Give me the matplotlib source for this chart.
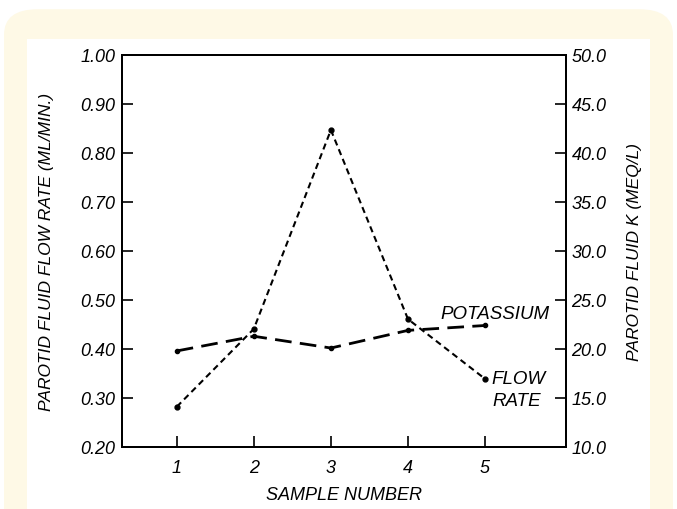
import matplotlib.pyplot as plt
from matplotlib.patches import FancyBboxPatch, Rectangle

plt.rcParams['font.family'] = ['Liberation Sans', 'DejaVu Sans']
plt.rcParams['font.style'] = 'italic'

samples = [1, 2, 3, 4, 5]
flow_rate = [0.282, 0.441, 0.847, 0.461, 0.339]   # ML/MIN, left axis
potassium = [19.8, 21.3, 20.1, 21.9, 22.4]        # MEQ/L, right axis

flow_ticks = [0.20, 0.30, 0.40, 0.50, 0.60, 0.70, 0.80, 0.90, 1.00]
k_ticks = [10.0, 15.0, 20.0, 25.0, 30.0, 35.0, 40.0, 45.0, 50.0]

fig = plt.figure(figsize=(6.77, 5.10), dpi=100)
fig.patch.set_facecolor('white')

# cream rounded frame with white panel inside
frame = FancyBboxPatch((4 / 677, -0.1), 669 / 677, 1.08,
                       boxstyle="round,pad=0,rounding_size=0.05",
                       transform=fig.transFigure, facecolor='#FEF9E6',
                       edgecolor='none', zorder=-10)
fig.patches.append(frame)
panel = Rectangle((27 / 677, 0), 623 / 677, 1 - 40 / 510,
                  transform=fig.transFigure, facecolor='white',
                  edgecolor='none', zorder=-9)
fig.patches.append(panel)

ax1 = fig.add_axes([122 / 677, 62 / 510, 444 / 677, 392 / 510])
ax1.patch.set_alpha(0)
ax2 = ax1.twinx()

ax1.plot(samples, flow_rate, color='black', linestyle=(0, (3, 2)), lw=1.5,
         marker='o', markersize=3.5)
ax2.plot(samples, potassium, color='black', linestyle=(0, (6, 3)), lw=2.0,
         marker='o', markersize=3)

ax1.set_xlim(0.29, 6.05)
ax1.set_ylim(0.2, 1.0)
ax2.set_ylim(10, 50)

ax1.set_xticks(samples)
ax1.set_yticks(flow_ticks)
ax1.set_yticklabels([f"{v:.2f}" for v in flow_ticks])
ax2.set_yticks(k_ticks)
ax2.set_yticklabels([f"{v:.1f}" for v in k_ticks])

for a in (ax1, ax2):
    a.tick_params(direction='in', length=8, width=1.2, labelsize=13)
    for s in a.spines.values():
        s.set_linewidth(1.4)
ax1.tick_params(axis='y', pad=5)
ax2.tick_params(axis='y', pad=4)
ax1.tick_params(axis='x', pad=9)

ax1.set_xlabel("SAMPLE NUMBER", fontsize=13, labelpad=7)
ax1.set_ylabel("PAROTID FLUID FLOW RATE (ML/MIN.)", fontsize=12.5, labelpad=19)
ax2.set_ylabel("PAROTID FLUID K (MEQ/L)", fontsize=12.5, labelpad=15)

ax1.text(4.42, 0.473, "POTASSIUM", fontsize=13.5, ha='left', va='center')
ax1.text(5.08, 0.339, "FLOW", fontsize=13.5, ha='left', va='center')
ax1.text(5.1, 0.294, "RATE", fontsize=13.5, ha='left', va='center')

fig.savefig("out.png", dpi=100)
